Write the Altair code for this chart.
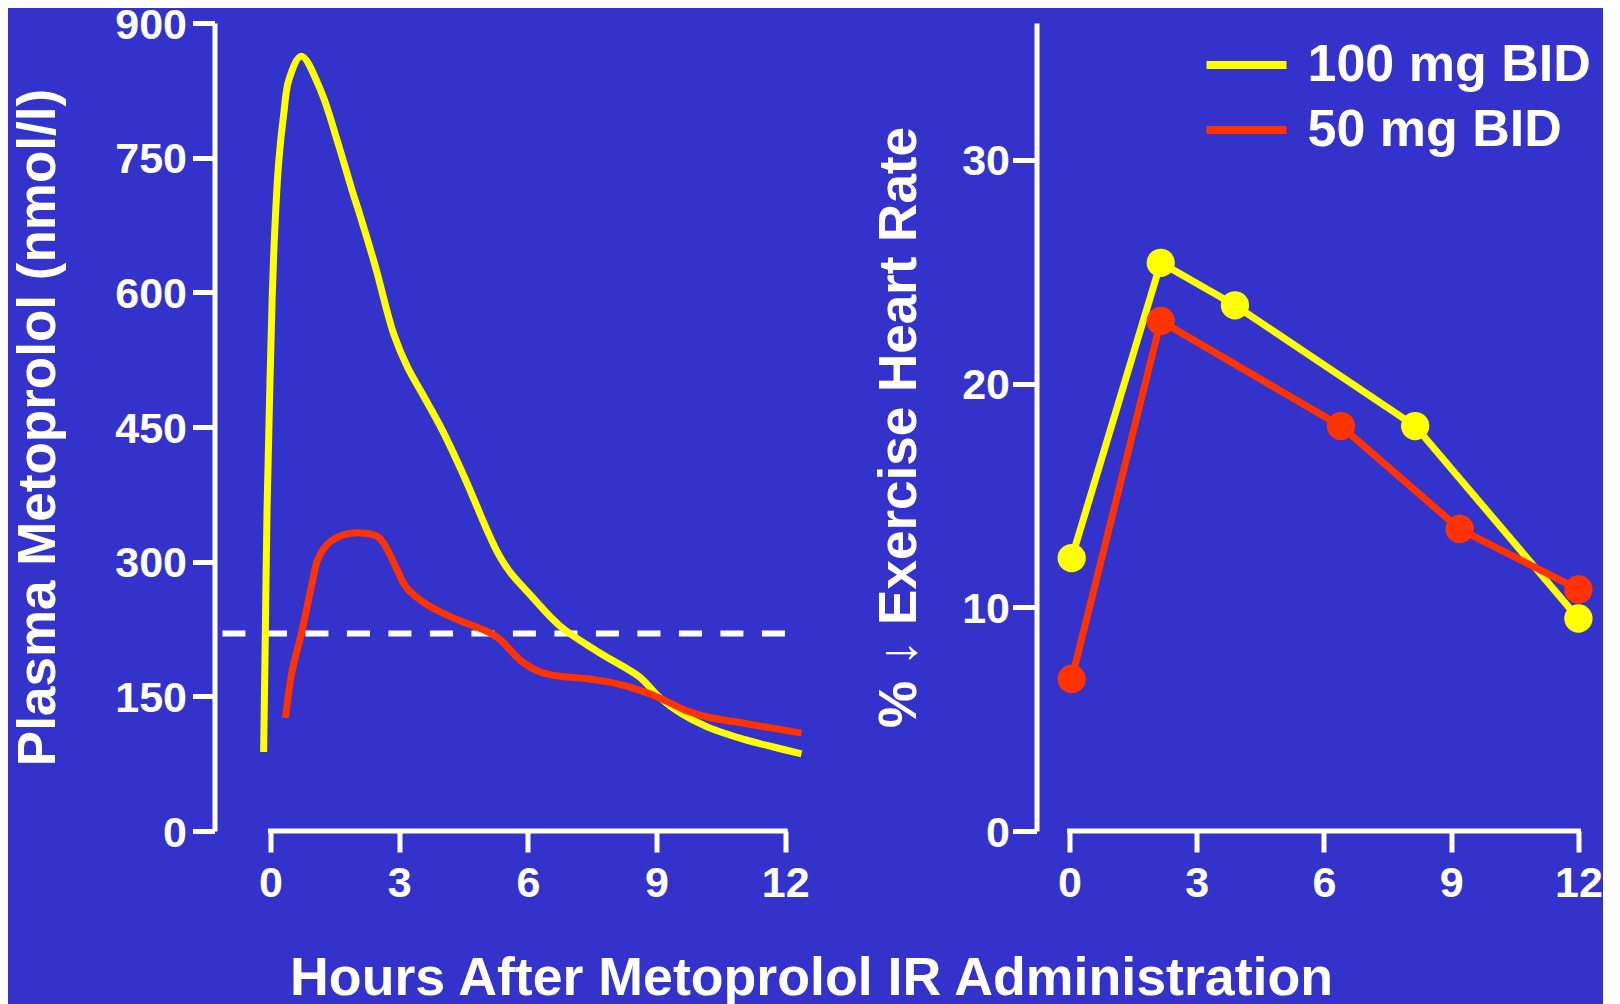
import altair as alt
import pandas as pd

# ---------------- data ----------------
doses = ["100 mg BID", "50 mg BID"]
dose_colors = ["#FFFF00", "#FF3300"]

# Left panel: plasma metoprolol concentration (nmol/l) vs hours
pk100_hours = [-0.16, -0.12, -0.08, -0.02, 0.04, 0.10, 0.19, 0.31, 0.43, 0.72, 1.17,
               1.55, 1.90, 2.10, 2.45, 2.87, 3.19, 3.54, 4.00, 4.55, 5.05, 5.32, 5.59, 6.02,
               6.76, 7.69, 8.59, 9.09, 9.57, 10.18, 11.04, 11.77, 12.38]
pk100_conc = [88, 220, 358, 484, 595, 669, 744, 799, 837, 863, 825,
              770, 714, 684, 628, 554, 517, 487, 447, 391, 335, 308, 288, 265,
              228, 198, 172, 148, 131, 116, 102, 93, 86]

pk50_hours = [0.35, 0.50, 0.72, 0.97, 1.10, 1.34, 1.71, 2.10, 2.50, 2.63, 2.74, 2.99,
              3.10, 3.23, 3.72, 4.33, 5.06, 5.36, 5.83, 6.29, 6.65, 7.30, 7.99, 8.72,
              9.21, 9.70, 10.18, 11.04, 11.77, 12.38]
pk50_conc = [126, 177, 220, 276, 302, 320, 330, 332, 328, 321, 312, 287,
             276, 268, 250, 236, 222, 213, 190, 177, 173, 170, 165, 155,
             145, 134, 127, 120, 114, 109]

threshold_conc = 220

# Right panel: % reduction in exercise heart rate vs hours
hr100_hours = [0.05, 2.15, 3.9, 8.15, 12.0]
hr100_pct = [12.2, 25.4, 23.5, 18.1, 9.5]
hr50_hours = [0.05, 2.15, 6.4, 9.2, 12.0]
hr50_pct = [6.8, 22.8, 18.1, 13.5, 10.8]

x_ticks = [0, 3, 6, 9, 12]
left_y_ticks = [0, 150, 300, 450, 600, 750, 900]
right_y_ticks = [0, 10, 20, 30]

# ---------------- tables ----------------
pk_df = pd.DataFrame({
    "hours": pk100_hours + pk50_hours,
    "conc": pk100_conc + pk50_conc,
    "dose": [doses[0]] * len(pk100_hours) + [doses[1]] * len(pk50_hours),
})
hr_df = pd.DataFrame({
    "hours": hr100_hours + hr50_hours,
    "pct": hr100_pct + hr50_pct,
    "dose": [doses[0]] * len(hr100_hours) + [doses[1]] * len(hr50_hours),
})
thr_df = pd.DataFrame({"x": [-1.12], "x2": [12.0], "y": [threshold_conc]})
left_axis_df = pd.DataFrame({"x": [0], "x2": [12], "y": [0]})
right_axis_df = pd.DataFrame({"x": [0], "x2": [12], "y": [0]})

FONT = "Liberation Sans"
WHITE = "#FFFFFF"

color_scale = alt.Scale(domain=doses, range=dose_colors)
legend = alt.Legend(
    title=None, orient="none", legendX=996, legendY=6,
    symbolType="M-1.25,0H1.25", symbolSize=4096, symbolStrokeWidth=8,
    labelFontSize=52, labelFont=FONT, labelFontWeight="bold", labelColor=WHITE,
    labelOffset=25, rowPadding=3, labelLimit=400,
)

left_x = alt.Scale(domain=[-1.305, 12.45], nice=False, zero=False)
left_y = alt.Scale(domain=[0, 900], nice=False)
right_x = alt.Scale(domain=[-0.78, 12.45], nice=False, zero=False)
right_y = alt.Scale(domain=[0, 36.12], nice=False)

x_axis = alt.Axis(values=x_ticks, domain=False, tickSize=21, tickWidth=5,
                  labelPadding=10, title=None, grid=False, labelFlush=False,
                  format="d")

# ---------------- left panel ----------------
thr = alt.Chart(thr_df).mark_rule(color=WHITE, strokeWidth=6, strokeDash=[23, 18.5]).encode(
    x=alt.X("x:Q", scale=left_x, axis=x_axis),
    x2="x2:Q",
    y=alt.Y("y:Q", scale=left_y),
)
left_axis_line = alt.Chart(left_axis_df).mark_rule(color=WHITE, strokeWidth=5, strokeCap="square").encode(
    x=alt.X("x:Q", scale=left_x), x2="x2:Q", y=alt.Y("y:Q", scale=left_y),
)
pk_lines = alt.Chart(pk_df).mark_line(strokeWidth=7, interpolate="catmull-rom").encode(
    x=alt.X("hours:Q", scale=left_x, axis=x_axis),
    y=alt.Y("conc:Q", scale=left_y, axis=alt.Axis(
        values=left_y_ticks, tickSize=22, tickWidth=5, domainWidth=5,
        labelPadding=6, labelOffset=2, grid=False,
        title="Plasma Metoprolol (nmol/l)", titlePadding=49)),
    color=alt.Color("dose:N", scale=color_scale, legend=legend, sort=doses),
)
left = alt.layer(thr, left_axis_line, pk_lines).properties(width=590, height=808)

# ---------------- right panel ----------------
right_axis_line = alt.Chart(right_axis_df).mark_rule(color=WHITE, strokeWidth=5, strokeCap="square").encode(
    x=alt.X("x:Q", scale=right_x, axis=x_axis), x2="x2:Q", y=alt.Y("y:Q", scale=right_y),
)
hr_base = alt.Chart(hr_df).encode(
    x=alt.X("hours:Q", scale=right_x, axis=x_axis),
    y=alt.Y("pct:Q", scale=right_y, axis=alt.Axis(
        values=right_y_ticks, tickSize=24, tickWidth=5, domainWidth=5,
        labelPadding=3, labelOffset=2, grid=False,
        title="% ↓ Exercise Heart Rate", titlePadding=35)),
    color=alt.Color("dose:N", scale=color_scale, legend=legend, sort=doses),
)
hr_lines = hr_base.mark_line(strokeWidth=7)
hr_points = hr_base.mark_circle(size=800, opacity=1)
right = alt.layer(right_axis_line, hr_lines, hr_points).properties(width=561, height=808)

chart = alt.hconcat(left, right, spacing=232, bounds="flush").properties(
    title=alt.TitleParams(
        text="Hours After Metoprolol IR Administration", orient="bottom",
        anchor="middle", fontSize=53.7, font=FONT, fontWeight="bold",
        color=WHITE, offset=48, dx=4),
    padding={"left": 4.5, "top": -4, "right": 0, "bottom": 0},
).configure(
    background="#3333CC",
).configure_view(
    stroke=None,
).configure_axis(
    labelColor=WHITE, labelFont=FONT, labelFontWeight="bold", labelFontSize=43,
    titleColor=WHITE, titleFont=FONT, titleFontWeight="bold", titleFontSize=53,
    domainColor=WHITE, tickColor=WHITE, labelOverlap=False,
)

chart.save("out.html", embed_options={"renderer": "svg", "actions": False})
